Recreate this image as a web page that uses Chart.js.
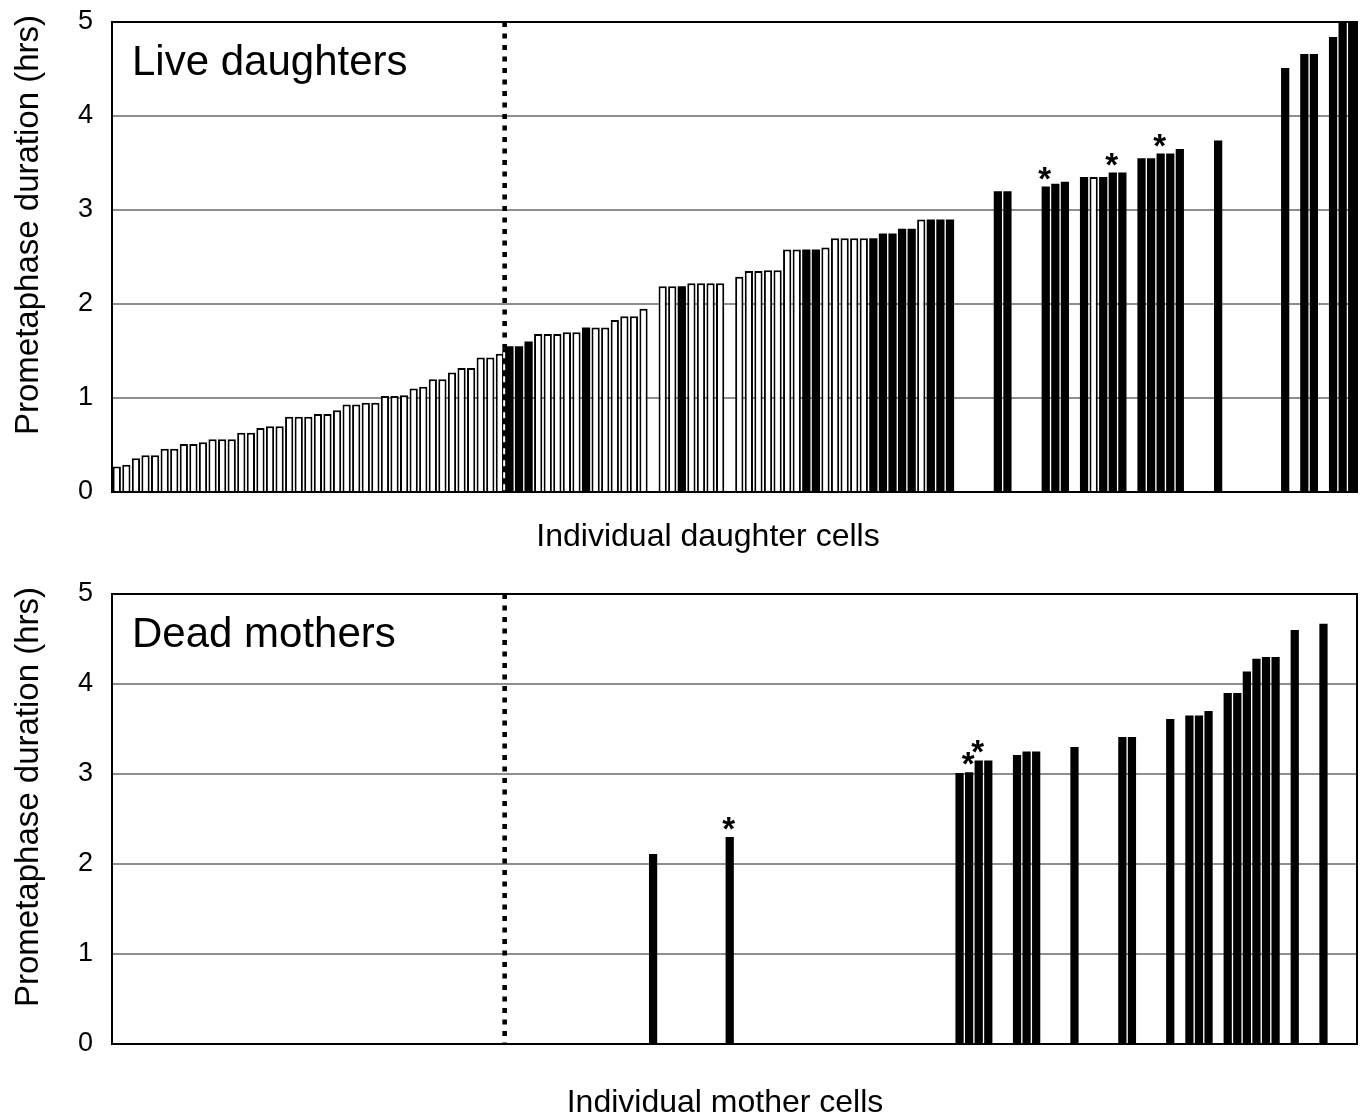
<!DOCTYPE html>
<html>
<head>
<meta charset="utf-8">
<title>Prometaphase duration</title>
<script src="https://cdn.jsdelivr.net/npm/chart.js@4/dist/chart.umd.min.js"></script>
<style>
  html, body { margin: 0; padding: 0; background: #fff; }
  #wrap { position: relative; width: 1367px; height: 1120px; overflow: hidden; }
  canvas { position: absolute; left: 0; }
</style>
</head>
<body>
<div id="wrap">
  <canvas id="live" width="1367" height="570" style="top:0"></canvas>
  <canvas id="dead" width="1367" height="550" style="top:570px"></canvas>
</div>
<script>
/* Prometaphase duration per cell, two panels on a shared 130-slot axis */
const slotCount = 130;
const yTicks = [0, 1, 2, 3, 4, 5];

// live daughters, one value per slot (null = empty slot)
const daughterHrs = [
  0.27, 0.29, 0.36, 0.39, 0.39, 0.46, 0.46, 0.51, 0.51, 0.53,
  0.56, 0.56, 0.56, 0.63, 0.63, 0.68, 0.70, 0.70, 0.80, 0.80,
  0.80, 0.83, 0.83, 0.87, 0.93, 0.93, 0.95, 0.95, 1.02, 1.02,
  1.03, 1.10, 1.12, 1.20, 1.20, 1.27, 1.32, 1.32, 1.43, 1.43,
  1.47, 1.55, 1.55, 1.60, 1.68, 1.68, 1.68, 1.70, 1.70, 1.75,
  1.75, 1.75, 1.83, 1.87, 1.87, 1.95, null, 2.19, 2.19, 2.19,
  2.22, 2.22, 2.22, 2.22, null, 2.29, 2.35, 2.35, 2.36, 2.36,
  2.58, 2.58, 2.58, 2.58, 2.60, 2.70, 2.70, 2.70, 2.70, 2.70,
  2.75, 2.75, 2.80, 2.80, 2.90, 2.90, 2.90, 2.90, null, null,
  null, null, 3.20, 3.20, null, null, null, 3.25, 3.28, 3.30,
  null, 3.35, 3.35, 3.35, 3.40, 3.40, null, 3.55, 3.55, 3.60,
  3.60, 3.65, null, null, null, 3.74, null, null, null, null,
  null, null, 4.51, null, 4.66, 4.66, null, 4.84, 5.00, 5.00
];
// o = open bar, f = filled bar, - = empty (groups of ten)
const daughterKind = (
  'oooooooooo oooooooooo oooooooooo oooooooooo offfooooof ' +
  'oooooo-oof oooo-ooooo ooffooooof ffffofff-- --ff---fff ' +
  '-fofff-fff ff---f---- --f-ff-fff').replace(/ /g, '');
const daughterStars = [97, 104, 109];

// dead mothers, sparse: slot index + value
const motherSlots = [56, 64, 88, 89, 90, 91, 94, 95, 96, 100, 105, 106,
  110, 112, 113, 114, 116, 117, 118, 119, 120, 121, 123, 126];
const motherHrs = [2.11, 2.30, 3.01, 3.02, 3.15, 3.15, 3.21, 3.25, 3.25, 3.30, 3.41, 3.41,
  3.61, 3.65, 3.65, 3.70, 3.90, 3.90, 4.14, 4.28, 4.30, 4.30, 4.60, 4.67];
const motherStars = [64, 89, 90];

// dotted divider sits between these slots; below this value it is a dark strip
const dividerAfterSlot = 40;
const dividerStripTop = 1.53;

const FONT = "'Liberation Sans', Arial, Helvetica, sans-serif";
const Y_TITLE = 'Prometaphase duration (hrs)';
const labels = Array.from({ length: slotCount }, (_, i) => 'cell ' + (i + 1));

function decor(p) {
  return {
    id: 'decor',
    afterDatasetsDraw(chart) {
      const { ctx, chartArea: a, scales: { x, y } } = chart;
      ctx.save();

      // divider
      const dx = x.getPixelForValue(dividerAfterSlot + 0.5);
      if (p.strip) {
        const sy = y.getPixelForValue(dividerStripTop);
        ctx.fillStyle = '#000';
        ctx.fillRect(dx - 2.3, sy, 4.6, a.bottom - sy);
        ctx.strokeStyle = '#fff';
        ctx.lineWidth = 2;
        ctx.setLineDash([6, 6]);
        ctx.beginPath(); ctx.moveTo(dx - 0.5, sy + 4); ctx.lineTo(dx - 0.5, a.bottom); ctx.stroke();
      }
      ctx.strokeStyle = '#000';
      ctx.lineWidth = 4.6;
      ctx.setLineDash([5, 6.5]);
      ctx.beginPath();
      ctx.moveTo(dx, a.top);
      ctx.lineTo(dx, p.strip ? y.getPixelForValue(dividerStripTop) : a.bottom);
      ctx.stroke();
      ctx.setLineDash([]);

      // frame
      ctx.lineWidth = 2;
      ctx.strokeStyle = '#000';
      ctx.strokeRect(a.left, a.top, a.right - a.left, a.bottom - a.top);

      // asterisks over selected bars
      ctx.fillStyle = '#000';
      ctx.font = 'bold 33px ' + FONT;
      ctx.textAlign = 'center';
      ctx.textBaseline = 'alphabetic';
      const m = ctx.measureText('*');
      const lift = (m.actualBoundingBoxAscent - m.actualBoundingBoxDescent) / 2;
      p.stars.forEach(i => {
        const cx = x.getPixelForValue(i);
        const cy = y.getPixelForValue(p.values[i]) - p.starGap;
        ctx.fillText('*', cx - 1, cy + lift);
      });

      // panel label
      ctx.font = '42px ' + FONT;
      ctx.textAlign = 'left';
      ctx.fillText(p.label, a.left + 20, a.top + 53);

      // axis titles
      ctx.font = '32px ' + FONT;
      ctx.textAlign = 'center';
      ctx.textBaseline = 'middle';
      ctx.fillText(p.xTitle, p.xTitleX, p.xTitleY);
      ctx.font = '33px ' + FONT;
      ctx.translate(29, p.yTitleY);
      ctx.rotate(-Math.PI / 2);
      ctx.fillText(Y_TITLE, 0, 0);
      ctx.restore();
    }
  };
}

function panel(id, p) {
  const open = p.values.map((v, i) => p.kind[i] === 'o' ? v : null);
  const filled = p.values.map((v, i) => p.kind[i] === 'f' ? v : null);
  return new Chart(document.getElementById(id), {
    type: 'bar',
    data: {
      labels,
      datasets: [
        { label: 'open', data: open, backgroundColor: '#fff', borderColor: '#000', borderWidth: 2, grouped: false },
        { label: 'filled', data: filled, backgroundColor: '#000', borderWidth: 0, grouped: false }
      ]
    },
    options: {
      responsive: false,
      animation: false,
      devicePixelRatio: 1,
      layout: { padding: { top: p.padTop, right: 10, left: 0, bottom: 0 } },
      datasets: { bar: { categoryPercentage: 1, barPercentage: 0.86 } },
      plugins: { legend: { display: false }, tooltip: { enabled: false } },
      scales: {
        x: {
          grid: { display: false },
          border: { display: false },
          ticks: { display: false },
          afterFit: s => { s.height = p.xAxisH; s.paddingLeft = 0; s.paddingRight = 0; }
        },
        y: {
          min: 0, max: 5,
          afterBuildTicks: s => { s.ticks = yTicks.map(v => ({ value: v })); },
          grid: { color: '#8e8e8e', lineWidth: 2, drawTicks: false },
          border: { display: false },
          ticks: { color: '#000', font: { family: FONT, size: 27 }, padding: 19 },
          afterFit: s => { s.width = 112; s.paddingTop = 0; s.paddingBottom = 0; }
        }
      }
    },
    plugins: [decor(p)]
  });
}

const motherValues = new Array(slotCount).fill(null);
motherSlots.forEach((s, i) => { motherValues[s] = motherHrs[i]; });

panel('live', {
  values: daughterHrs, kind: daughterKind, stars: daughterStars, starGap: 13,
  label: 'Live daughters', xTitle: 'Individual daughter cells', xTitleX: 708, xTitleY: 537,
  yTitleY: 225, padTop: 22, xAxisH: 78, strip: true
});
panel('dead', {
  values: motherValues, kind: motherValues.map(v => v === null ? '-' : 'f'), stars: motherStars, starGap: 14,
  label: 'Dead mothers', xTitle: 'Individual mother cells', xTitleX: 725, xTitleY: 533,
  yTitleY: 227, padTop: 24, xAxisH: 76, strip: false
});
</script>
</body>
</html>
